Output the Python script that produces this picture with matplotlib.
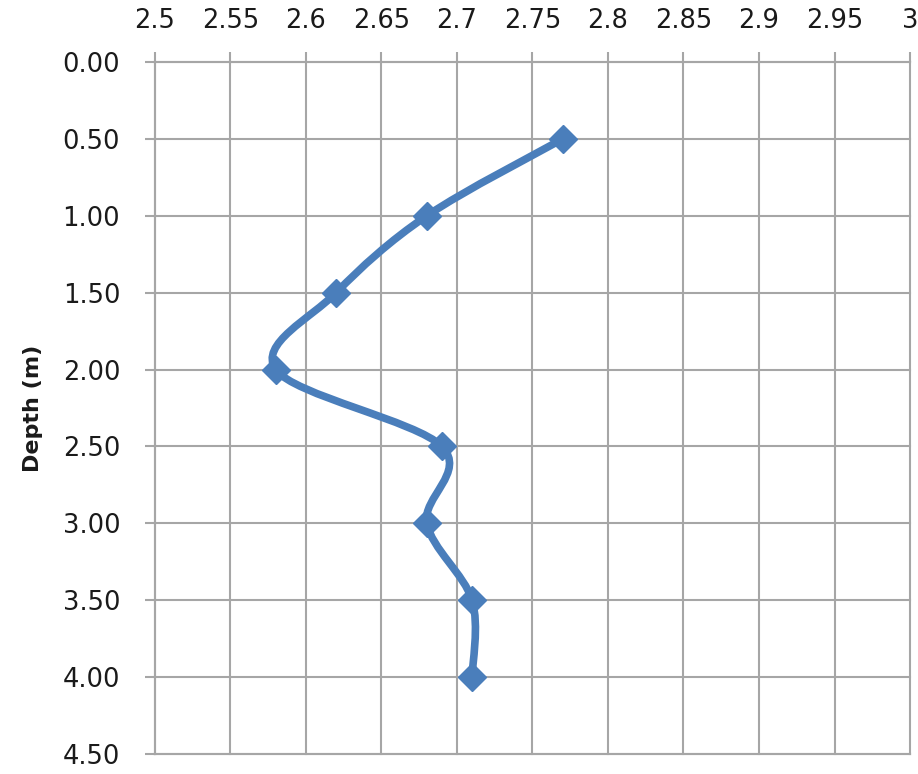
import matplotlib
matplotlib.use("Agg")
import matplotlib.pyplot as plt
from matplotlib.path import Path
from matplotlib.patches import PathPatch
import numpy as np

# density-like values vs depth
values = [2.77, 2.68, 2.62, 2.58, 2.69, 2.68, 2.71, 2.71]
depth = [0.5, 1.0, 1.5, 2.0, 2.5, 3.0, 3.5, 4.0]

x_ticks = [2.5, 2.55, 2.6, 2.65, 2.7, 2.75, 2.8, 2.85, 2.9, 2.95, 3.0]
x_labels = ["2.5", "2.55", "2.6", "2.65", "2.7", "2.75", "2.8", "2.85", "2.9", "2.95", "3"]
y_ticks = [0.0, 0.5, 1.0, 1.5, 2.0, 2.5, 3.0, 3.5, 4.0, 4.5]

blue = "#4a7ebb"
grid = "#a6a6a6"
txt = "#1a1a1a"

fig = plt.figure(figsize=(9.18, 7.74), dpi=100)
ax = fig.add_axes([0.1688, 0.026, 0.8225, 0.8938])

# smooth line like excel: catmull-rom turned into bezier segments
pts = np.column_stack([values, depth])
verts = [tuple(pts[0])]
codes = [Path.MOVETO]
n = len(pts)
for i in range(n - 1):
    p0 = pts[max(i - 1, 0)]
    p1 = pts[i]
    p2 = pts[i + 1]
    p3 = pts[min(i + 2, n - 1)]
    c1 = p1 + (p2 - p0) / 6.0
    c2 = p2 - (p3 - p1) / 6.0
    verts += [tuple(c1), tuple(c2), tuple(p2)]
    codes += [Path.CURVE4] * 3
ax.add_patch(PathPatch(Path(verts, codes), facecolor="none", edgecolor=blue,
                       lw=5.5, capstyle="round", joinstyle="round", zorder=3))
ax.plot(values, depth, ls="none", marker="D", ms=14, color=blue, zorder=4)

ax.set_xlim(2.5, 3.0)
ax.set_ylim(4.5, 0.0)
ax.xaxis.tick_top()
ax.set_xticks(x_ticks)
ax.set_xticklabels(x_labels)
ax.set_yticks(y_ticks)
ax.set_yticklabels(["%.2f" % v for v in y_ticks])
ax.tick_params(axis="both", colors=grid, labelcolor=txt, labelsize=18.5,
               length=7, width=1.5)
ax.tick_params(axis="x", pad=13)
ax.tick_params(axis="y", pad=18)
ax.grid(True, color=grid, lw=1.5, clip_on=False)
ax.axhline(4.5, color=grid, lw=1.5, clip_on=False)
ax.set_axisbelow(True)
for s in ["right", "bottom"]:
    ax.spines[s].set_visible(False)
for s in ["left", "top"]:
    ax.spines[s].set_color(grid)
    ax.spines[s].set_linewidth(1.5)
ax.set_ylabel("Depth (m)", fontsize=16, fontweight="bold", color=txt, labelpad=14)

plt.savefig("out.png")
